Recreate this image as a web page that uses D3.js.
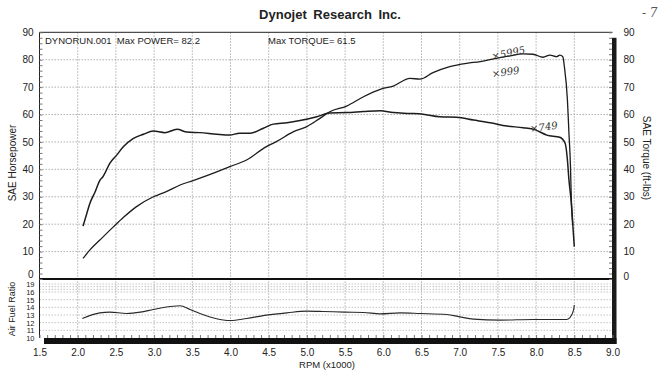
<!DOCTYPE html>
<html>
<head>
<meta charset="utf-8">
<script src="https://cdn.jsdelivr.net/npm/d3@7"></script>
<style>
  body { margin: 0; background: #fff; }
  svg text { font-family: "Liberation Sans", Arial, sans-serif; fill: #222; }
  .hand { font-family: "DejaVu Serif", serif; font-style: italic; fill: #333; }
</style>
</head>
<body>
<div id="chart"></div>
<script>
// rpm (x1000) and SAE torque (ft-lbs)
let tqRpm = [2.07, 2.12, 2.16, 2.23, 2.29, 2.33, 2.42, 2.51, 2.60, 2.73, 2.86, 2.99, 3.14, 3.30, 3.43, 3.60, 3.82, 3.99, 4.12, 4.26, 4.43, 4.56, 4.74, 4.91, 5.13, 5.30, 5.52, 5.74, 5.96, 6.13, 6.35, 6.52, 6.74, 6.96, 7.18, 7.40, 7.62, 7.83, 7.99, 8.14, 8.31, 8.38, 8.41, 8.43, 8.46, 8.48, 8.50]
let torque = [19.3, 24, 27.6, 31.9, 36, 37.3, 42.2, 45.2, 48.3, 51.3, 52.8, 54, 53.4, 54.6, 53.6, 53.4, 52.8, 52.5, 53.2, 53.2, 55, 56.5, 57, 57.8, 59.2, 60.6, 60.7, 61.1, 61.4, 60.7, 60.4, 60.1, 59.2, 59, 58, 57, 55.8, 55.2, 54.4, 52.5, 51.7, 49.5, 43.4, 36.1, 28, 20, 11.8]

// rpm and SAE horsepower
let hpRpm = [2.07, 2.16, 2.29, 2.47, 2.60, 2.77, 2.99, 3.16, 3.34, 3.51, 3.60, 3.82, 3.99, 4.21, 4.47, 4.60, 4.82, 5.00, 5.17, 5.30, 5.52, 5.74, 5.96, 6.13, 6.35, 6.48, 6.65, 6.87, 7.09, 7.27, 7.48, 7.66, 7.83, 7.96, 8.09, 8.18, 8.27, 8.31, 8.35, 8.37, 8.41, 8.43, 8.45, 8.46, 8.47, 8.48]
let power = [7.5, 10.6, 14.2, 19.1, 22.5, 26.4, 30, 31.9, 34.3, 35.9, 36.8, 39.1, 41, 43.4, 48.3, 50.1, 53.7, 55.6, 58.6, 61, 63.1, 66.5, 69.2, 70.4, 73.2, 72.9, 75.3, 77.5, 78.7, 79.3, 80.5, 81.4, 82.1, 82, 80.9, 81.7, 81.1, 81.7, 81.1, 77.5, 65.3, 53.2, 41, 30, 24, 19.7]

// rpm and air fuel ratio
let afrRpm = [2.06, 2.29, 2.42, 2.64, 2.82, 2.99, 3.25, 3.34, 3.47, 3.60, 3.78, 4.00, 4.21, 4.47, 4.74, 5.00, 5.21, 5.49, 5.74, 5.96, 6.22, 6.48, 6.83, 7.00, 7.18, 7.53, 7.96, 8.40, 8.44, 8.49, 8.50]
let afr = [12.55, 13.28, 13.37, 13.2, 13.37, 13.72, 14.15, 14.2, 13.72, 13.2, 12.62, 12.28, 12.55, 12.98, 13.28, 13.5, 13.46, 13.37, 13.33, 13.15, 13.28, 13.2, 13.07, 12.76, 12.46, 12.33, 12.42, 12.42, 12.62, 13.63, 14.3]

let rpmTicks = [1.5, 2.0, 2.5, 3.0, 3.5, 4.0, 4.5, 5.0, 5.5, 6.0, 6.5, 7.0, 7.5, 8.0, 8.5, 9.0]
let powerTicks = [0, 10, 20, 30, 40, 50, 60, 70, 80, 90]
let afrGrid = [11, 12, 13, 14, 15, 16, 17, 18, 19]
let afrLabels = [10, 11, 12, 13, 14, 15, 16, 19]

let width = 659
let height = 375

window.onload = function () {

  let svg = d3.select("#chart").append("svg")
    .attr("width", width)
    .attr("height", height)

  let x = d3.scaleLinear().domain([1.5, 9]).range([39.5, 612.5])
  let y = d3.scaleLinear().domain([0, 90]).range([279, 32.3])
  // the AFR strip on the sheet is squeezed at the top
  let yA = d3.scaleLinear().domain([10, 16, 19]).range([338, 292, 284])

  // title
  svg.append("text")
    .attr("x", 330).attr("y", 19)
    .attr("text-anchor", "middle")
    .style("font-size", "13px").style("font-weight", "bold")
    .style("word-spacing", "3px")
    .text("Dynojet  Research  Inc.")

  // grid
  let grid = svg.append("g")
    .attr("stroke", "#9a9a9a").attr("stroke-width", 0.8)
    .attr("stroke-dasharray", "1.5,1.5")
  grid.selectAll(".gx")
    .data(rpmTicks.slice(1, -1))
    .join("line")
      .attr("x1", d => x(d)).attr("x2", d => x(d))
      .attr("y1", y(90)).attr("y2", yA(10))
  grid.selectAll(".gy")
    .data(powerTicks.slice(1, -1))
    .join("line")
      .attr("class", "gy")
      .attr("x1", x(1.5)).attr("x2", x(9))
      .attr("y1", d => y(d)).attr("y2", d => y(d))
  grid.selectAll(".ga")
    .data(afrGrid)
    .join("line")
      .attr("class", "ga")
      .attr("stroke", "#b5b5b5")
      .attr("x1", x(1.5)).attr("x2", x(9))
      .attr("y1", d => yA(d)).attr("y2", d => yA(d))

  // frame
  svg.append("line")
    .attr("x1", x(1.5)).attr("x2", x(9))
    .attr("y1", y(90)).attr("y2", y(90))
    .attr("stroke", "#222").attr("stroke-width", 1)
  svg.append("line")
    .attr("x1", x(1.5)).attr("x2", x(1.5))
    .attr("y1", y(90)).attr("y2", yA(10))
    .attr("stroke", "#222").attr("stroke-width", 1)
  svg.append("line")
    .attr("x1", x(1.5)).attr("x2", x(9))
    .attr("y1", y(0)).attr("y2", y(0))
    .attr("stroke", "#111").attr("stroke-width", 2)
  svg.append("rect")
    .attr("x", x(9) - 0.5).attr("y", y(88))
    .attr("width", 4.5).attr("height", yA(10) + 6 - y(88))
    .attr("fill", "#1a1a1a")
  svg.append("rect")
    .attr("x", 44).attr("y", yA(10))
    .attr("width", x(9) + 4 - 44).attr("height", 6)
    .attr("fill", "#111")

  // minor ticks
  svg.append("g")
    .attr("transform", "translate(" + x(1.5) + ",0)")
    .call(d3.axisRight(y).tickValues(d3.range(0, 91, 2)).tickSize(3).tickFormat(""))
    .call(g => g.select(".domain").remove())
    .selectAll("line").attr("stroke", "#777")
  svg.append("g")
    .attr("transform", "translate(" + (x(9) - 0.5) + ",0)")
    .call(d3.axisLeft(y).tickValues(d3.range(0, 91, 2)).tickSize(3).tickFormat(""))
    .call(g => g.select(".domain").remove())
    .selectAll("line").attr("stroke", "#777")
  svg.append("g")
    .attr("transform", "translate(0," + yA(10) + ")")
    .call(d3.axisTop(x).tickValues(d3.range(15, 91, 1).map(d => d / 10)).tickSize(3).tickFormat(""))
    .call(g => g.select(".domain").remove())
    .selectAll("line").attr("stroke", "#777")

  // tick labels
  let left = svg.append("g")
    .attr("transform", "translate(" + x(1.5) + ",0)")
    .call(d3.axisLeft(y).tickValues(powerTicks).tickSize(0).tickPadding(6))
  left.select(".domain").remove()
  left.selectAll("text").style("font-size", "10px")
    .attr("dy", d => d == 0 ? "-0.15em" : "0.32em")

  let right = svg.append("g")
    .attr("transform", "translate(" + (x(9) + 4) + ",0)")
    .call(d3.axisRight(y).tickValues(powerTicks).tickSize(0).tickPadding(7))
  right.select(".domain").remove()
  right.selectAll("text").style("font-size", "10px")
    .attr("dy", d => d == 0 ? "0.05em" : "0.32em")

  let leftA = svg.append("g")
    .attr("transform", "translate(" + x(1.5) + ",0)")
    .call(d3.axisLeft(yA).tickValues(afrLabels).tickSize(0).tickPadding(5))
  leftA.select(".domain").remove()
  leftA.selectAll("text").style("font-size", "7.5px")

  let bottom = svg.append("g")
    .attr("transform", "translate(0," + (yA(10) + 6) + ")")
    .call(d3.axisBottom(x).tickValues(rpmTicks).tickSize(0).tickPadding(5).tickFormat(d3.format(".1f")))
  bottom.select(".domain").remove()
  bottom.selectAll("text").style("font-size", "10px")

  // axis titles
  svg.append("text")
    .attr("transform", "translate(16,163) rotate(-90)")
    .attr("text-anchor", "middle").style("font-size", "10px")
    .text("SAE Horsepower")
  svg.append("text")
    .attr("transform", "translate(643,158) rotate(90)")
    .attr("text-anchor", "middle").style("font-size", "10px")
    .text("SAE Torque (ft-lbs)")
  svg.append("text")
    .attr("transform", "translate(15,309) rotate(-90)")
    .attr("text-anchor", "middle").style("font-size", "9px")
    .text("Air Fuel Ratio")
  svg.append("text")
    .attr("x", 327).attr("y", 368)
    .attr("text-anchor", "middle").style("font-size", "9.5px")
    .text("RPM (x1000)")

  // run header
  svg.append("text")
    .attr("x", 45).attr("y", 44).style("font-size", "9.5px")
    .attr("xml:space", "preserve")
    .text("DYNORUN.001  Max POWER= 82.2")
  svg.append("text")
    .attr("x", 268).attr("y", 44).style("font-size", "9.5px")
    .text("Max TORQUE= 61.5")

  // curves
  let line = (xs, ys, yy) => d3.line()
    .x((d, i) => x(xs[i]))
    .y(d => yy(d))
    .curve(d3.curveMonotoneX)(ys)

  svg.append("path")
    .attr("d", line(tqRpm, torque, y))
    .attr("fill", "none").attr("stroke", "#1c1c1c").attr("stroke-width", 1.5)
  svg.append("path")
    .attr("d", line(hpRpm, power, y))
    .attr("fill", "none").attr("stroke", "#1c1c1c").attr("stroke-width", 1.3)
  svg.append("path")
    .attr("d", line(afrRpm, afr, yA))
    .attr("fill", "none").attr("stroke", "#2a2a2a").attr("stroke-width", 1.1)

  // pen notes on the sheet
  let notes = [
    {t: "×5995", px: 7.47, py: 80.3, dx: -3, dy: 1, r: -12},
    {t: "×999", px: 7.47, py: 75.0, dx: -3, dy: 4, r: -8},
    {t: "×749", px: 7.97, py: 54.6, dx: -3, dy: 3, r: -8}
  ]
  svg.selectAll(".hand")
    .data(notes)
    .join("text")
      .attr("class", "hand")
      .attr("transform", d => "translate(" + (x(d.px) + d.dx) + "," + (y(d.py) + d.dy) + ") rotate(" + d.r + ")")
      .style("font-size", "10px")
      .text(d => d.t)
  svg.append("text")
    .attr("class", "hand")
    .attr("x", 642).attr("y", 17)
    .style("font-size", "12px").style("fill", "#555")
    .text("- 7")
}
</script>
</body>
</html>
